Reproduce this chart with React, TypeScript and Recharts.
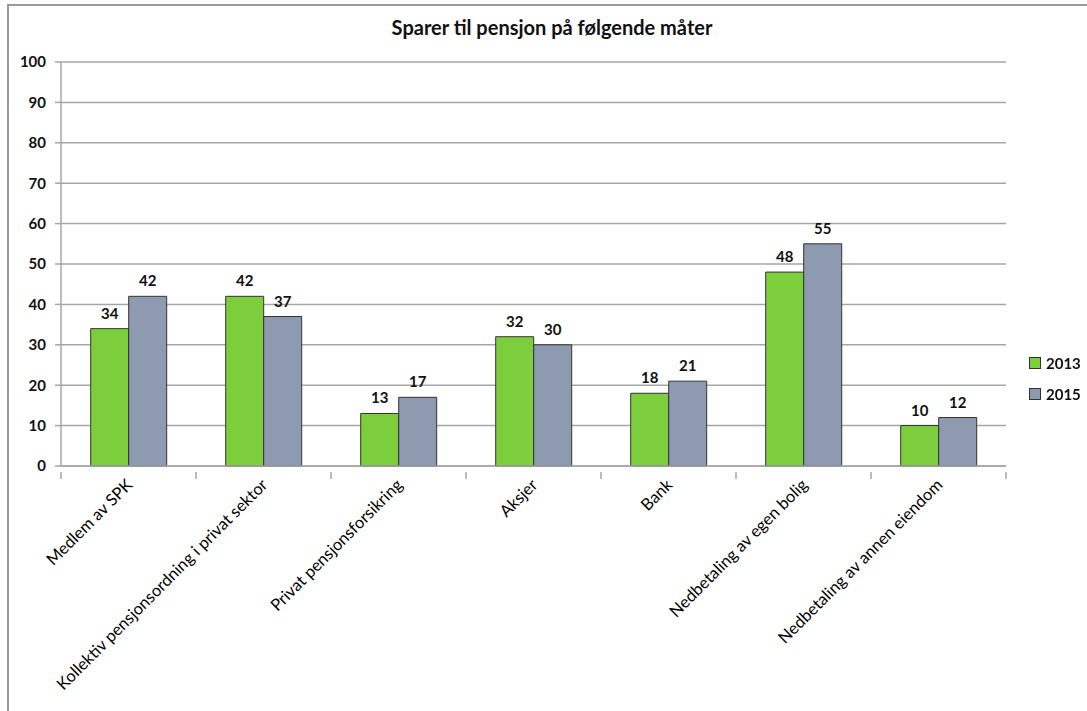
import React from "react";
import { BarChart, Bar, XAxis, YAxis, CartesianGrid, LabelList, Legend } from "recharts";

const categories = [
  "Medlem av SPK",
  "Kollektiv pensjonsordning i privat sektor",
  "Privat pensjonsforsikring",
  "Aksjer",
  "Bank",
  "Nedbetaling av egen bolig",
  "Nedbetaling av annen eiendom",
];
const values2013 = [34, 42, 13, 32, 18, 48, 10];
const values2015 = [42, 37, 17, 30, 21, 55, 12];
const yTicks = [0, 10, 20, 30, 40, 50, 60, 70, 80, 90, 100];
const seriesNames = ["2013", "2015"];

const data = categories.map((c, i) => ({ name: c, v2013: values2013[i], v2015: values2015[i] }));

const FONT = "Lato, 'Open Sans', sans-serif";
const GREEN = "#7DCE3C";
const GRAY = "#8E9AB0";
const HALF_BAND = (1006 - 61) / 7 / 2;

const CatTick = (props: any) => {
  const { x, y, payload, index } = props;
  return (
    <g>
      <line x1={x + HALF_BAND} y1={y - 2} x2={x + HALF_BAND} y2={y + 5} stroke="#A6A6A6" strokeWidth={1.5} />
      {index === 0 && (
        <line x1={x - HALF_BAND} y1={y - 2} x2={x - HALF_BAND} y2={y + 5} stroke="#A6A6A6" strokeWidth={1.5} />
      )}
      <text
        x={x + 5}
        y={y + 12}
        transform={`rotate(-45, ${x + 5}, ${y + 12})`}
        textAnchor="end"
        fontFamily={FONT}
        fontSize={16.5}
        fill="#000"
      >
        {payload.value}
      </text>
    </g>
  );
};

const LegendContent = () => (
  <div style={{ fontFamily: FONT, fontWeight: 700, fontSize: 15, color: "#111" }}>
    {seriesNames.map((n, i) => (
      <div key={n} style={{ display: "flex", alignItems: "center", height: 31 }}>
        <span
          style={{
            display: "inline-block",
            width: 10,
            height: 10,
            background: i === 0 ? GREEN : GRAY,
            border: "1px solid #333",
            marginRight: 5,
          }}
        />
        {n}
      </div>
    ))}
  </div>
);

export default function App() {
  return (
    <div style={{ position: "fixed", left: 0, top: 0, width: 1087, height: 711, background: "#fff" }}>
      <div
        style={{
          position: "absolute",
          left: 7,
          top: 4,
          width: 1200,
          height: 800,
          borderLeft: "2px solid #999",
          borderTop: "2px solid #999",
        }}
      />
      <div
        style={{
          position: "absolute",
          left: 0,
          top: 15,
          width: 1104,
          textAlign: "center",
          fontFamily: FONT,
          fontWeight: 700,
          fontSize: 20,
          color: "#111",
        }}
      >
        Sparer til pensjon på følgende måter
      </div>
      <div style={{ position: "absolute", left: 0, top: 0 }}>
        <BarChart
          width={1087}
          height={711}
          data={data}
          margin={{ top: 62, right: 81, bottom: 0, left: 0 }}
          barCategoryGap="22%"
          barGap={0}
        >
          <CartesianGrid vertical={false} stroke="#A6A6A6" strokeWidth={1.5} />
          <XAxis
            dataKey="name"
            interval={0}
            tick={<CatTick />}
            tickLine={false}
            axisLine={{ stroke: "#A6A6A6", strokeWidth: 1.5 }}
            height={245}
          />
          <YAxis
            width={61}
            domain={[0, 100]}
            ticks={yTicks}
            interval={0}
            tickSize={6}
            tickMargin={9}
            tickLine={{ stroke: "#A6A6A6", strokeWidth: 1.5 }}
            axisLine={{ stroke: "#A6A6A6", strokeWidth: 1.5 }}
            tick={{ fontFamily: FONT, fontWeight: 700, fontSize: 15, fill: "#111" }}
          />
          <Legend
            layout="vertical"
            align="center"
            verticalAlign="middle"
            content={<LegendContent />}
            wrapperStyle={{ position: "absolute", left: 1029, top: 347, width: 60 }}
          />
          <Bar dataKey="v2013" name="2013" fill={GREEN} stroke="#333" strokeWidth={1} isAnimationActive={false}>
            <LabelList dataKey="v2013" position="top" offset={10} fontFamily={FONT} fontWeight={700} fontSize={15} fill="#111" />
          </Bar>
          <Bar dataKey="v2015" name="2015" fill={GRAY} stroke="#333" strokeWidth={1} isAnimationActive={false}>
            <LabelList dataKey="v2015" position="top" offset={10} fontFamily={FONT} fontWeight={700} fontSize={15} fill="#111" />
          </Bar>
        </BarChart>
      </div>
    </div>
  );
}
